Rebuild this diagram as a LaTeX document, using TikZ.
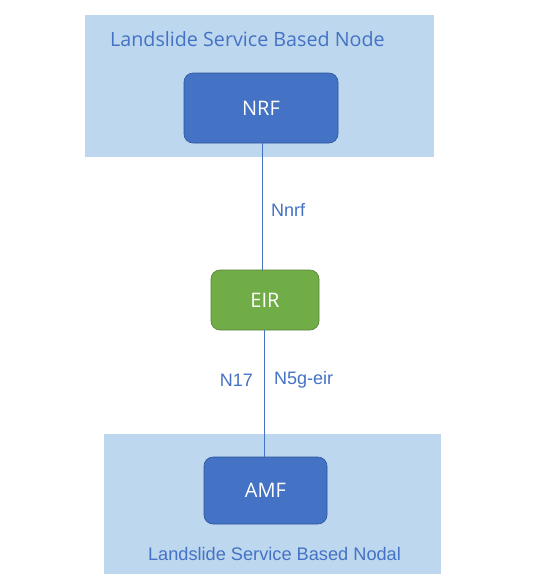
\documentclass[tikz,border=0pt]{standalone}
\usepackage{fontspec}
\setmainfont{Open Sans}
\newfontfamily\arialf{Liberation Sans}
\definecolor{bgblue}{HTML}{BDD7EE}
\definecolor{nodeblue}{HTML}{4472C4}
\definecolor{nodeblueb}{HTML}{2F5597}
\definecolor{nodegreen}{HTML}{70AD47}
\definecolor{nodegreenb}{HTML}{548235}
\definecolor{txtblue}{HTML}{4472C4}
\begin{document}
\begin{tikzpicture}[x=1pt,y=-1pt,
  region/.style={fill=bgblue,draw=none},
  fnbox/.style={rounded corners=9pt,draw=nodeblueb,line width=0.6pt,fill=nodeblue,text=white,font=\fontsize{20}{24}\selectfont,inner sep=0pt},
  greenbox/.style={fnbox,fill=nodegreen,draw=nodegreenb},
  link/.style={draw=txtblue,line width=0.8pt},
  lbl/.style={text=txtblue,font=\arialf\fontsize{18}{21}\selectfont,inner sep=0pt}]
\useasboundingbox (0,0) rectangle (546,587);
\fill[white] (0,0) rectangle (546,587);
\path[region] (85,15) rectangle (434,157);
\path[region] (104,434) rectangle (441,574);
\node[text=txtblue,font=\fontsize{19.7}{23}\selectfont,inner sep=0pt,anchor=west] (t1) at (110,39) {Landslide Service Based Node};
\node[text=txtblue,font=\arialf\fontsize{18.2}{21}\selectfont,inner sep=0pt] (t2) at (274.5,554) {Landslide Service Based Nodal};
\node[fnbox,minimum width=154pt,minimum height=70pt] (nrf) at (261,108) {NRF};
\node[greenbox,minimum width=108pt,minimum height=60pt] (eir) at (265,300) {EIR};
\node[fnbox,minimum width=123pt,minimum height=67pt] (amf) at (265.5,490.5) {AMF};
\coordinate (ct) at (262,143);
\draw[link] (nrf.south -| ct) -- (eir.north -| ct);
\coordinate (cb) at (264,330);
\draw[link] (eir.south -| cb) -- (amf.north -| cb);
\node[lbl,anchor=west] (nnrf) at (271,210) {Nnrf};
\node[lbl,anchor=east] (n17) at (253,380) {N17};
\node[lbl,anchor=west] (n5g) at (274,380) {N5g-eir};
\end{tikzpicture}
\end{document}
